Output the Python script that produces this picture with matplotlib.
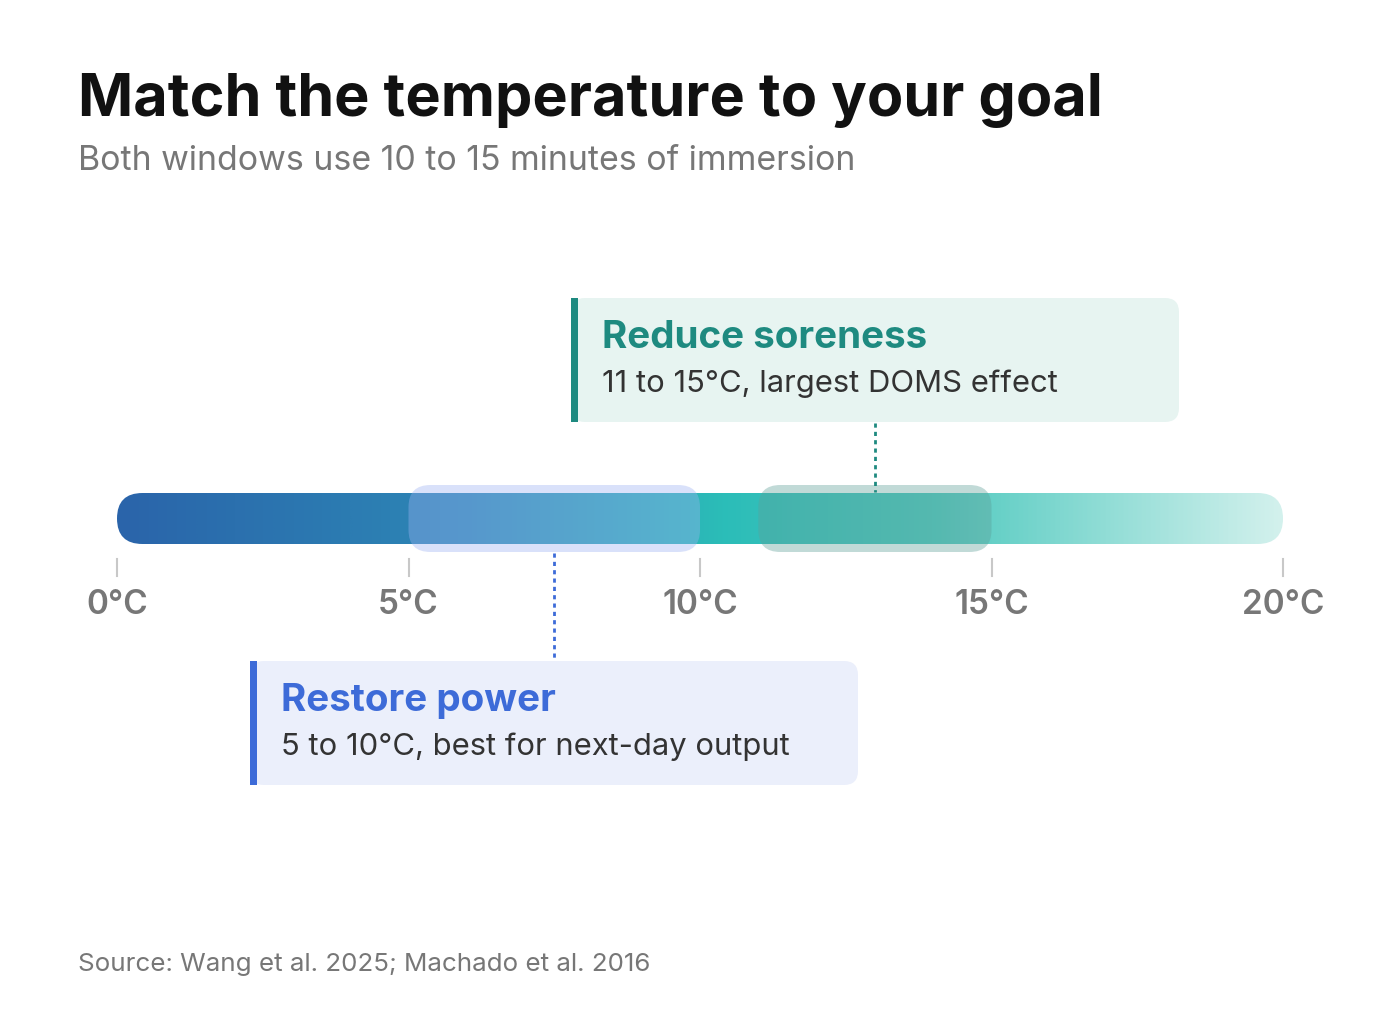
import matplotlib
matplotlib.use("Agg")
import matplotlib.pyplot as plt
import numpy as np
from matplotlib.patches import FancyBboxPatch, Rectangle
from matplotlib.colors import LinearSegmentedColormap

plt.rcParams['font.family'] = ['Inter', 'DejaVu Sans']

ticks = [0, 5, 10, 15, 20]
tick_labels = ["0°C", "5°C", "10°C", "15°C", "20°C"]
scale_min, scale_max = 0, 20
restore_range = (5, 10)
sore_range = (11, 15)
restore_mark = 7.5
sore_mark = 13

fig = plt.figure(figsize=(14, 10.11), dpi=100)
ax = fig.add_axes([0, 0, 1, 1])
ppd = 1166 / 20.0
ax.set_xlim(-117 / ppd, (1400 - 117) / ppd)
ax.set_ylim(1011, 0)
ax.axis('off')
asp = ppd

def rbox(x0, x1, y0, y1, r_px, **kw):
    p = FancyBboxPatch((x0, y0), x1 - x0, y1 - y0,
                       boxstyle=f"round,pad=0,rounding_size={r_px/ppd}",
                       mutation_aspect=asp, **kw)
    ax.add_patch(p)
    return p

cmap = LinearSegmentedColormap.from_list("g", [(0, "#2a64aa"), (0.3, "#2d88b6"), (0.52, "#2bbdb8"),
                                               (0.7, "#4fc9bf"), (1, "#d3f1ed")])
grad = np.linspace(0, 1, 512)[None, :]
bar = rbox(scale_min, scale_max, 493, 544, 25.5, facecolor='none', edgecolor='none')
im = ax.imshow(grad, cmap=cmap, extent=(scale_min, scale_max, 544, 493), aspect='auto', zorder=1)
im.set_clip_path(bar)

rbox(restore_range[0], restore_range[1], 485, 552, 22, facecolor="#9db2f2", alpha=0.38, edgecolor='none', zorder=2)
rbox(sore_range[0], sore_range[1], 485, 552, 22, facecolor="#5e9f98", alpha=0.38, edgecolor='none', zorder=2)

for t, lab in zip(ticks, tick_labels):
    ax.plot([t, t], [559, 576], color="#c8c8c8", lw=1.5)
    ax.text(t, 605, lab, ha='center', va='center', fontsize=24, color="#777777", fontweight='semibold')

rbox((571 - 117) / ppd, (1179 - 117) / ppd, 298, 422, 14, facecolor="#e7f4f1", edgecolor='none', zorder=3)
ax.add_patch(Rectangle(((571 - 117) / ppd, 298), 7 / ppd, 124, facecolor="#1e8a80", zorder=4))
ax.text((602 - 117) / ppd, 338, "Reduce soreness", fontsize=27.8, fontweight='bold', color="#1e8a80", va='center', zorder=5)
ax.text((602 - 117) / ppd, 384, "11 to 15°C, largest DOMS effect", fontsize=22.3, color="#333333", va='center', zorder=5)
ax.plot([sore_mark, sore_mark], [423, 492], color="#1e8a80", lw=2, ls=(0, (1.5, 1.5)), zorder=3)

rbox((250 - 117) / ppd, (858 - 117) / ppd, 661, 785, 14, facecolor="#ebeffb", edgecolor='none', zorder=3)
ax.add_patch(Rectangle(((250 - 117) / ppd, 661), 7 / ppd, 124, facecolor="#3d6bd8", zorder=4))
ax.text((281 - 117) / ppd, 701, "Restore power", fontsize=27.8, fontweight='bold', color="#3d6bd8", va='center', zorder=5)
ax.text((281 - 117) / ppd, 747, "5 to 10°C, best for next-day output", fontsize=22.3, color="#333333", va='center', zorder=5)
ax.plot([restore_mark, restore_mark], [553, 660], color="#3d6bd8", lw=2, ls=(0, (1.5, 1.5)), zorder=3)

fig.text(78 / 1400, 1 - 100 / 1011, "Match the temperature to your goal", fontsize=42.7, fontweight='bold',
         color="#111111", va='center')
fig.text(78 / 1400, 1 - 161 / 1011, "Both windows use 10 to 15 minutes of immersion", fontsize=24.4,
         color="#777777", va='center')
fig.text(78 / 1400, 1 - 964 / 1011, "Source: Wang et al. 2025; Machado et al. 2016", fontsize=18.7,
         color="#777777", va='center')

fig.savefig("out.png", dpi=100, facecolor='white')
